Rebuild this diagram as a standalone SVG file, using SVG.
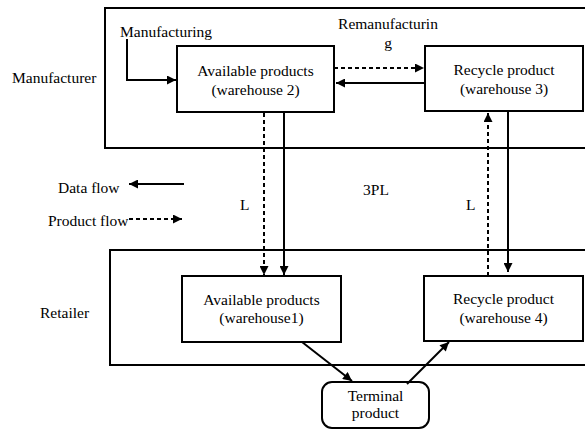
<svg xmlns="http://www.w3.org/2000/svg" width="585" height="431" viewBox="0 0 585 431">
<style>
text{font-family:'Liberation Serif','DejaVu Serif',serif;font-size:15.5px;fill:#000}
.c{text-anchor:middle}
.box{fill:#fff;stroke:#000;stroke-width:2}
.frame{fill:none;stroke:#000;stroke-width:2}
.s{fill:none;stroke:#000;stroke-width:2}
.d{fill:none;stroke:#000;stroke-width:2;stroke-dasharray:4 3}
</style>
<defs>
<marker id="ah" viewBox="0 0 10 10" refX="10" refY="5" markerWidth="10" markerHeight="9" markerUnits="userSpaceOnUse" orient="auto">
<path d="M0,0 L10,5 L0,10 Z" fill="#000"/>
</marker>
</defs>
<g id="manufacturer">
<rect class="frame" x="105" y="8" width="485" height="140"/>
<text x="12" y="83">Manufacturer</text>
</g>
<g id="retailer">
<rect class="frame" x="110" y="250" width="480" height="115"/>
<text x="40" y="318">Retailer</text>
</g>
<g id="w2">
<rect class="box" x="177" y="46" width="157" height="66"/>
<text class="c" x="255.5" y="76">Available products</text>
<text class="c" x="255.5" y="95">(warehouse 2)</text>
</g>
<g id="w3">
<rect class="box" x="425" y="46" width="158" height="65"/>
<text class="c" x="504" y="75">Recycle product</text>
<text class="c" x="504" y="94">(warehouse 3)</text>
</g>
<g id="w1">
<rect class="box" x="182" y="276" width="159" height="66"/>
<text class="c" x="261.5" y="305">Available products</text>
<text class="c" x="261.5" y="323">(warehouse1)</text>
</g>
<g id="w4">
<rect class="box" x="424" y="276" width="159" height="65"/>
<text class="c" x="503.5" y="304">Recycle product</text>
<text class="c" x="503.5" y="323">(warehouse 4)</text>
</g>
<g id="terminal">
<rect class="box" x="322" y="382" width="107" height="46" rx="10" ry="10"/>
<text class="c" x="375.5" y="401">Terminal</text>
<text class="c" x="375.5" y="418">product</text>
</g>
<g id="labels">
<text x="120" y="37">Manufacturing</text>
<text class="c" x="388" y="29">Remanufacturin</text>
<text class="c" x="388" y="48">g</text>
<text x="58" y="193">Data flow</text>
<text x="48" y="226">Product flow</text>
<text class="c" x="376" y="195">3PL</text>
<text x="240" y="210">L</text>
<text x="466" y="210">L</text>
</g>
<g id="connectors">
<polyline class="s" points="127,39 127,80 176,80" marker-end="url(#ah)"/>
<line class="d" x1="334" y1="68" x2="424" y2="68" marker-end="url(#ah)"/>
<line class="s" x1="425" y1="83" x2="336" y2="83" marker-end="url(#ah)"/>
<line class="d" x1="264" y1="113" x2="264" y2="275" marker-end="url(#ah)"/>
<line class="s" x1="284" y1="113" x2="284" y2="275" marker-end="url(#ah)"/>
<line class="d" x1="488" y1="276" x2="488" y2="113" marker-end="url(#ah)"/>
<line class="s" x1="508" y1="112" x2="508" y2="272" marker-end="url(#ah)"/>
<line class="s" x1="302" y1="342" x2="352" y2="381" marker-end="url(#ah)"/>
<line class="s" x1="407" y1="384" x2="449" y2="342" marker-end="url(#ah)"/>
<line class="s" x1="184" y1="184" x2="129" y2="184" marker-end="url(#ah)"/>
<line class="d" x1="129" y1="219" x2="182" y2="219" marker-end="url(#ah)"/>
</g>
</svg>
